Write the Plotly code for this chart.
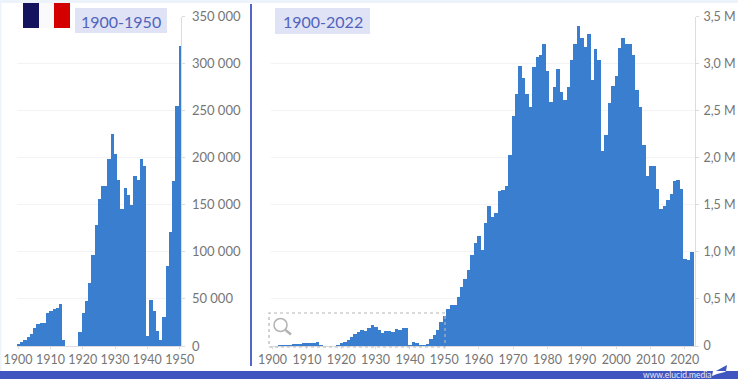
import plotly.graph_objects as go

W, H = 738, 379
early_years = list(range(1900, 1951))
early_values = [3000, 5000, 7000, 10000, 13000, 20000, 24000, 25000, 25000, 36000,
                38000, 40000, 41000, 45000, 7000, 0, 0, 0, 0, 15000,
                36000, 48000, 67000, 97000, 129000, 157000, 171000, 170000, 199000, 226000,
                205000, 177000, 146000, 168000, 161000, 150000, 181000, 177000, 199000, 192000,
                11000, 49000, 38000, 16000, 7000, 31000, 85000, 122000, 176000, 255000,
                319000]
late_years = list(range(1951, 2023))
late_values = [400000, 440000, 440000, 530000, 630000, 720000, 810000, 970000, 1100000,
               1170000, 1030000, 1310000, 1490000, 1380000, 1420000, 1650000, 1660000, 1700000, 2030000,
               2450000, 2680000, 2980000, 2850000, 2680000, 2540000, 2970000, 3080000, 3100000, 3210000,
               2930000, 2600000, 2760000, 2950000, 2700000, 2620000, 2760000, 3040000, 3210000, 3400000,
               3280000, 3180000, 3320000, 2830000, 3160000, 3040000, 2080000, 2250000, 2590000, 2770000,
               2870000, 3170000, 3280000, 3210000, 3210000, 3100000, 2720000, 2540000, 2140000, 1810000,
               1915000, 1920000, 1675000, 1460000, 1490000, 1560000, 1620000, 1755000, 1770000, 1670000,
               930000, 920000, 1000000]
all_years = early_years + late_years
all_values = early_values + late_values

left_xticks = [1900, 1910, 1920, 1930, 1940, 1950]
right_xticks = left_xticks + [1960, 1970, 1980, 1990, 2000, 2010, 2020]
left_yticks = [0, 50000, 100000, 150000, 200000, 250000, 300000, 350000]
left_ylabels = ["0", "50 000", "100 000", "150 000", "200 000", "250 000", "300 000", "350 000"]
right_yticks = [0, 500000, 1000000, 1500000, 2000000, 2500000, 3000000, 3500000]
right_ylabels = ["0", "0,5 M", "1,0 M", "1,5 M", "2,0 M", "2,5 M", "3,0 M", "3,5 M"]
left_title = "1900-1950"
right_title = "1900-2022"
credit = "www.elucid.media"

BAR = "#3a7ecf"
GRID = "#f3f3f3"
AXIS = "#dcdcdc"
TXT = "#757575"
BLUE = "#3f55bf"
FONT = "Lato"


def px(x):
    return x / W


def py(y):
    return 1 - y / H


def rect(x0, y0, x1, y1, fill, line=None, layer="above", dash=None, width=0):
    return dict(type="rect", xref="paper", yref="paper", x0=px(x0), x1=px(x1), y0=py(y0), y1=py(y1),
                fillcolor=fill, layer=layer,
                line=dict(color=line or fill, width=width, dash=dash or "solid"))


fig = go.Figure()
fig.add_bar(x=early_years, y=early_values, xaxis="x", yaxis="y", marker=dict(color=BAR, line=dict(width=0)))
fig.add_bar(x=all_years, y=all_values, xaxis="x2", yaxis="y2", marker=dict(color=BAR, line=dict(width=0)))

xcommon = dict(tickmode="array", showgrid=False, zeroline=False, showline=True, linecolor=AXIS, automargin=False,
               ticks="outside", ticklen=2, tickcolor=AXIS, tickfont=dict(family=FONT, size=12.5, color=TXT),
               ticklabelstandoff=0)
ycommon = dict(tickmode="array", side="right", showgrid=True, gridcolor=GRID, gridwidth=1, zeroline=False,
               automargin=False, showline=True, linecolor=AXIS, linewidth=1, ticks="outside", ticklen=3,
               tickcolor=AXIS)
ydom = [py(346), py(16.5)]

shapes = [
    rect(0, 0, W, 3, "#edf3fb", layer="below"),
    rect(0, 0, 1.5, H, "#edf3fb", layer="below"),
    rect(0, 371, W, H, BLUE),
    rect(250, 4, 252, 366, "#5266c8"),
    rect(23, 3, 39, 28, "#14145e"),
    rect(39, 3, 54, 28, "#fafafa"),
    rect(54, 3, 70, 28, "#d40000"),
    rect(75, 8, 167, 33, "#dfe3f5", layer="below"),
    rect(275, 8, 370, 34, "#dfe3f5", layer="below"),
    dict(type="rect", xref="paper", yref="paper", x0=px(269), x1=px(445), y0=py(347), y1=py(313),
         fillcolor="rgba(0,0,0,0)", layer="above", line=dict(color="#b5b5b5", width=1.2, dash="dot")),
    dict(type="circle", xref="paper", yref="paper", x0=px(274), x1=px(287), y0=py(331.5), y1=py(318.5),
         fillcolor="rgba(0,0,0,0)", line=dict(color="#b3b3b3", width=1.5)),
    dict(type="line", xref="paper", yref="paper", x0=px(285.5), x1=px(291), y0=py(330), y1=py(334.5),
         line=dict(color="#b3b3b3", width=2.5)),
    dict(type="path", xref="paper", yref="paper",
         path=f"M {px(716)} {py(371)} L {px(727)} {py(365)} L {px(726)} {py(371)} Z",
         fillcolor=BLUE, line=dict(width=0), layer="above"),
    dict(type="path", xref="paper", yref="paper",
         path=f"M {px(712)} {py(376)} L {px(713)} {py(371)} L {px(726)} {py(371)} L {px(725)} {py(372)} "
              f"L {px(717)} {py(374)} Z",
         fillcolor="#ffffff", line=dict(width=0), layer="above"),
]

annotations = [
    dict(text=left_title, xref="paper", yref="paper", x=px(121), y=py(21), showarrow=False,
         xanchor="center", yanchor="middle", font=dict(family=FONT, size=16, color="#5063bd")),
    dict(text=right_title, xref="paper", yref="paper", x=px(322.5), y=py(21), showarrow=False,
         xanchor="center", yanchor="middle", font=dict(family=FONT, size=16, color="#5063bd")),
    dict(text=credit, xref="paper", yref="paper", x=px(677), y=py(374.5), showarrow=False,
         xanchor="center", yanchor="middle", font=dict(family=FONT, size=8.5, color="#e8ecfa")),
]

fig.update_layout(
    width=W, height=H, autosize=False, margin=dict(l=0, r=0, t=0, b=0),
    paper_bgcolor="#ffffff", plot_bgcolor="rgba(0,0,0,0)", showlegend=False, bargap=0,
    xaxis=dict(domain=[px(16.5), px(181.3)], range=[1899.5, 1950.5], anchor="y",
               tickvals=left_xticks, **xcommon),
    yaxis=dict(domain=ydom, range=[0, 350000], anchor="x", tickvals=left_yticks, ticktext=left_ylabels,
               tickfont=dict(family=FONT, size=13, color=TXT), ticklabelstandoff=4, **ycommon),
    xaxis2=dict(domain=[px(270.8), px(695)], range=[1899.5, 2022.95], anchor="y2",
                tickvals=right_xticks, **xcommon),
    yaxis2=dict(domain=ydom, range=[0, 3500000], anchor="x2", tickvals=right_yticks, ticktext=right_ylabels,
                tickfont=dict(family=FONT, size=12.5, color=TXT), ticklabelstandoff=2, **ycommon),
    shapes=shapes, annotations=annotations,
)
fig.write_html("out.html", config={"displayModeBar": False},
               post_script="document.body.style.margin='0';document.documentElement.style.overflow='hidden';")
